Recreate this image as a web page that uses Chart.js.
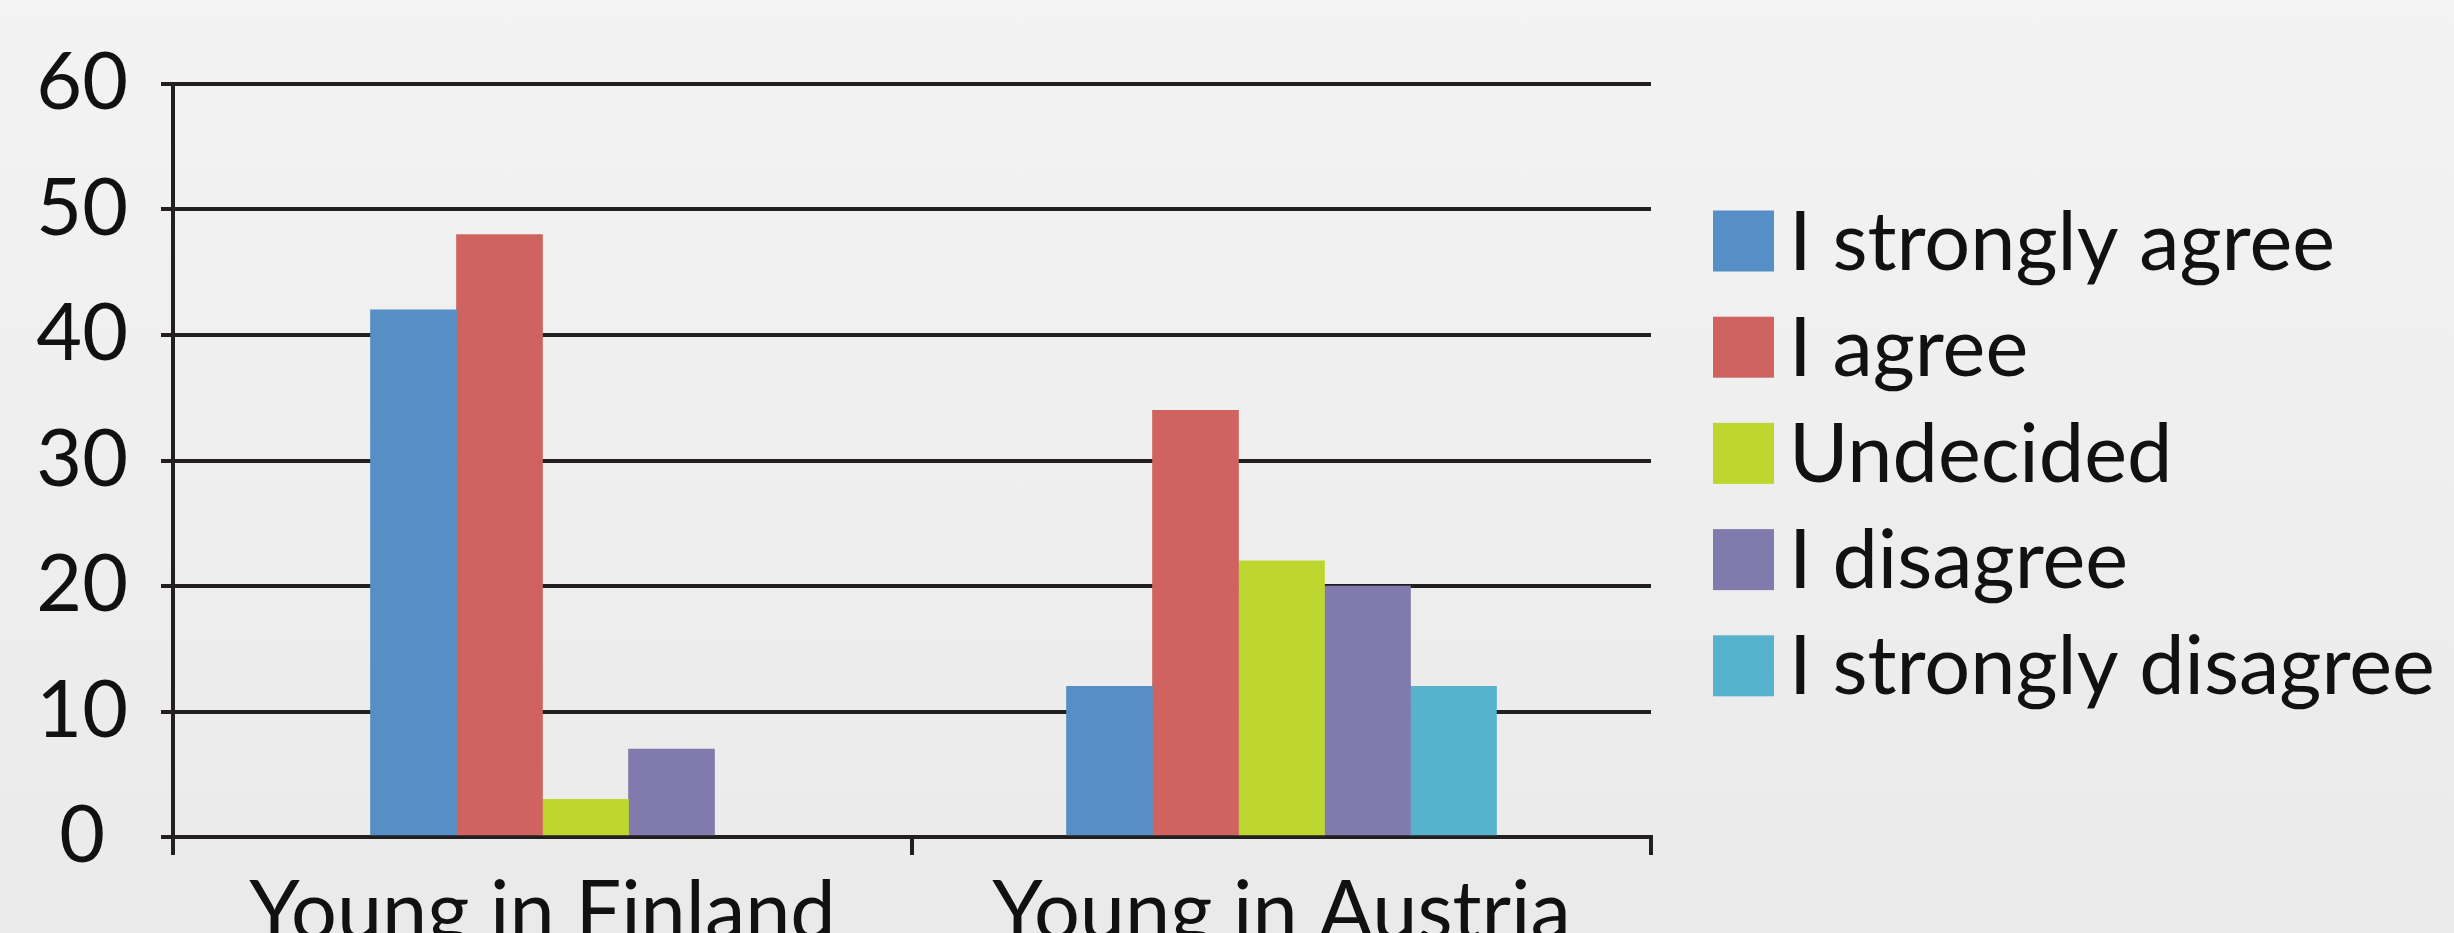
<!DOCTYPE html>
<html>
<head>
<meta charset="utf-8">
<script src="https://cdn.jsdelivr.net/npm/chart.js@4/dist/chart.umd.min.js"></script>
<style>
html, body { margin: 0; padding: 0; overflow: hidden; }
body { width: 2454px; height: 933px; background: linear-gradient(#f3f3f3, #eaeaeb); }
#caixa { position: relative; width: 2454px; height: 933px; }
</style>
</head>
<body>
<div id="caixa"><canvas id="grafica"></canvas></div>
<script>
const categories = ["Young in Finland", "Young in Austria"];
const seriesNames = ["I strongly agree", "I agree", "Undecided", "I disagree", "I strongly disagree"];
const stronglyAgree = [42, 12];
const agree = [48, 34];
const undecided = [3, 22];
const disagree = [7, 20];
const stronglyDisagree = [null, 12];
const seriesColors = ["#558fc6", "#cf6360", "#bed730", "#817aac", "#57b2ce"];
const yMin = 0, yMax = 60, yStep = 10;

const ink = "#231f20";
const textInk = "#111111";
const fontFam = "Lato, 'Open Sans', sans-serif";

const seriesValues = [stronglyAgree, agree, undecided, disagree, stronglyDisagree];

// legend drawn by hand on the right, Chart.js caps the width of a side legend
const legendaDreta = {
    id: "legendaDreta",
    afterDraw(chart) {
        const c = chart.ctx;
        c.save();
        c.font = "81px " + fontFam;
        c.textBaseline = "alphabetic";
        chart.data.datasets.forEach((ds, i) => {
            const yc = 241 + i * 106.2;
            c.fillStyle = ds.backgroundColor;
            c.fillRect(1713, yc - 30.5, 61, 61);
            c.fillStyle = textInk;
            c.fillText(ds.label, 1789, yc + 28.5);
        });
        c.restore();
    }
};

const ctx = document.getElementById("grafica").getContext("2d");
const grafica = new Chart(ctx, {
    type: "bar",
    data: {
        labels: categories,
        datasets: seriesNames.map((name, i) => ({
            label: name,
            data: seriesValues[i],
            backgroundColor: seriesColors[i],
            borderWidth: 0,
            barThickness: 86
        }))
    },
    options: {
        responsive: true,
        maintainAspectRatio: false,
        animation: false,
        skipNull: true,
        layout: { padding: { top: 84, right: 803, left: 0, bottom: 0 } },
        plugins: {
            tooltip: { enabled: false },
            legend: { display: false }
        },
        scales: {
            x: {
                grid: { drawOnChartArea: false, color: ink, lineWidth: 4, tickLength: 18 },
                border: { color: ink, width: 4 },
                ticks: { font: { family: fontFam, size: 81 }, color: textInk, padding: 9 },
                afterFit: s => { s.height = 96; }
            },
            y: {
                min: yMin,
                max: yMax,
                ticks: { stepSize: yStep, font: { family: fontFam, size: 79 }, color: textInk, padding: 33, crossAlign: "center" },
                grid: { color: ink, lineWidth: 4, tickLength: 12 },
                border: { color: ink, width: 4 },
                afterFit: s => { s.width = 173; }
            }
        }
    },
    plugins: [legendaDreta]
});
</script>
</body>
</html>
